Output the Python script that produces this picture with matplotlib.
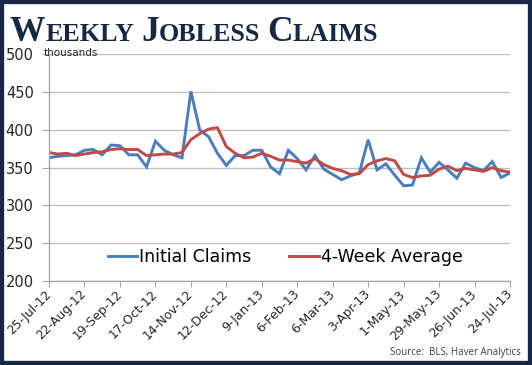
import matplotlib
matplotlib.use("Agg")
import matplotlib.pyplot as plt
from matplotlib.patches import Rectangle

# weekly data, thousands
semanas = list(range(53))
iniciales = [363, 365, 366, 367, 373, 374, 367, 380, 379, 367,
             367, 351, 385, 373, 367, 363, 451, 400, 391, 369,
             353, 366, 366, 373, 373, 351, 342, 373, 362, 347,
             366, 348, 341, 334, 339, 343, 387, 347, 355, 340,
             326, 327, 363, 344, 357, 347, 336, 356, 350, 346,
             358, 337, 343]
promedio4 = [370, 368, 369, 366, 368, 370, 371, 374, 375, 374,
             374, 366, 367, 368, 368, 370, 387, 395, 401, 403,
             378, 369, 363, 364, 369, 365, 360, 360, 358, 356,
             362, 354, 349, 346, 341, 342, 354, 359, 362, 359,
             341, 337, 339, 340, 348, 352, 346, 349, 347, 345,
             350, 346, 344]
etiquetas_x = ["25-Jul-12", "22-Aug-12", "19-Sep-12", "17-Oct-12", "14-Nov-12",
               "12-Dec-12", "9-Jan-13", "6-Feb-13", "6-Mar-13", "3-Apr-13",
               "1-May-13", "29-May-13", "26-Jun-13", "24-Jul-13"]
ticks_y = [200, 250, 300, 350, 400, 450, 500]

azul = "#4a7ebb"
rojo = "#be4b48"
navy = "#172845"

fig = plt.figure(figsize=(5.32, 3.65), dpi=100)
ax = fig.add_axes([49/532, 1 - 281/365, 461/532, 226.7/365])

ax.plot(semanas, iniciales, color=azul, lw=2.1, label="Initial Claims", solid_joinstyle="miter")
ax.plot(semanas, promedio4, color=rojo, lw=2.1, label="4-Week Average")

ax.set_xlim(0, 52)
ax.set_ylim(200, 500)
ax.set_yticks(ticks_y)
ax.set_xticks(range(0, 53, 4))
ax.set_xticklabels(etiquetas_x, rotation=45, ha="right", va="center",
                   rotation_mode="anchor", fontsize=9, color="#262626")
ax.tick_params(axis="x", length=4, color="#a6a6a6", pad=4)
ax.tick_params(axis="y", length=5, color="#a6a6a6", pad=6, labelsize=10.5, labelcolor="#262626")
ax.grid(axis="y", color="#bfbfbf", lw=1)
ax.set_axisbelow(True)
for s in ["top", "right"]:
    ax.spines[s].set_visible(False)
for s in ["left", "bottom"]:
    ax.spines[s].set_color("#a6a6a6")
    ax.spines[s].set_linewidth(1)

ax.legend(loc="center", bbox_to_anchor=(0.512, 0.106), ncol=2, frameon=False,
          fontsize=12.5, handlelength=1.7, handletextpad=0.1, columnspacing=2.2)

fig.text(44/532, 1 - 53/365, "thousands", fontsize=7.5, va="center", ha="left", color="#262626")
fig.text(521/532, 1 - 353/365, "Source:  BLS, Haver Analytics", fontsize=7, ha="right",
         va="center", color="#404040", family="Open Sans")

# title in small caps
trozos = [("W", True), ("EEKLY", False), (" ", None), ("J", True), ("OBLESS", False),
          (" ", None), ("C", True), ("LAIMS", False)]
renderer = fig.canvas.get_renderer()
x = 10
base = 1 - 41/365
for txt, grande in trozos:
    if grande is None:
        x += 7
        continue
    t = fig.text(x/532, base, txt, fontsize=25.5 if grande else 18.7, fontweight="bold",
                 family="Liberation Serif", color=navy, va="baseline", ha="left")
    x += t.get_window_extent(renderer).width

fig.patches.append(Rectangle((0, 0), 1, 1, transform=fig.transFigure, fill=False,
                             edgecolor=navy, lw=6, zorder=10))

fig.savefig("out.png", dpi=100)
